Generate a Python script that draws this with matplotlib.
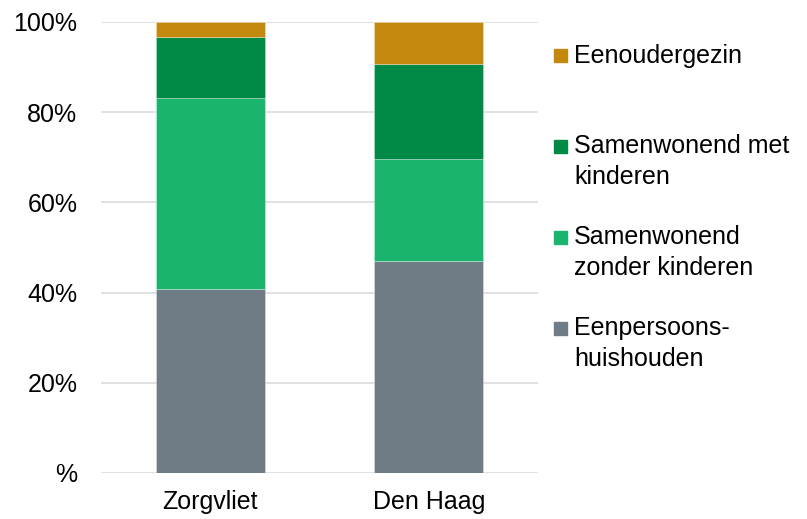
import matplotlib
matplotlib.use("Agg")
import matplotlib.pyplot as plt
from matplotlib.patches import Rectangle
import numpy as np

plt.rcParams['font.family'] = ['Liberation Sans', 'DejaVu Sans']

categories = ["Zorgvliet", "Den Haag"]
series_names = ["Eenpersoons-\nhuishouden", "Samenwonend\nzonder kinderen",
                "Samenwonend met\nkinderen", "Eenoudergezin"]
eenpersoons = [40.8, 47.0]
zonder_kinderen = [42.3, 22.6]
met_kinderen = [13.6, 21.1]
eenouder = [3.3, 9.3]
series_values = [eenpersoons, zonder_kinderen, met_kinderen, eenouder]
colors = ["#6F7C85", "#1AB46E", "#008A45", "#C4880F"]
yticks = [0, 20, 40, 60, 80, 100]
ytick_labels = ["%", "20%", "40%", "60%", "80%", "100%"]

FS = 18
W, H = 807, 519
fig = plt.figure(figsize=(W / 100, H / 100), dpi=100)
ax = fig.add_axes([101 / W, 1 - 473 / H, (538 - 101) / W, (473 - 22) / H])

x = np.arange(len(categories))
bottom = np.zeros(len(categories))
for vals, col in zip(series_values, colors):
    ax.bar(x, vals, width=0.5, bottom=bottom, color=col,
           edgecolor=(1, 1, 1, 0.35), linewidth=0.6, zorder=3)
    bottom += np.array(vals)

ax.set_xlim(-0.5, 1.5)
ax.set_ylim(0, 100)
ax.set_yticks(yticks)
ax.set_yticklabels(ytick_labels)
ax.set_xticks(x)
ax.set_xticklabels(categories)
ax.tick_params(axis='y', length=0, pad=17, labelsize=FS, labelcolor="#000000")
ax.tick_params(axis='x', length=0, pad=12, labelsize=FS, labelcolor="#000000")
for s in ax.spines.values():
    s.set_visible(False)
ax.yaxis.grid(True, color="#D9D9D9", linewidth=1.1, zorder=0)
ax.set_axisbelow(True)

# Legend (top to bottom: reverse stacking order)
order = list(range(len(series_names)))[::-1]
for i, idx in enumerate(order):
    base_y = 62.5 + 91 * i
    cy = base_y - 7
    fig.add_artist(Rectangle((554 / W, 1 - (cy + 6.5) / H), 13 / W, 13 / H,
                             transform=fig.transFigure, color=colors[idx]))
    for j, line in enumerate(series_names[idx].split("\n")):
        fig.text(574 / W, 1 - (base_y + 30.5 * j) / H, line, fontsize=FS,
                 va='baseline', ha='left', color="#000000")

fig.savefig("out.png", dpi=100)
